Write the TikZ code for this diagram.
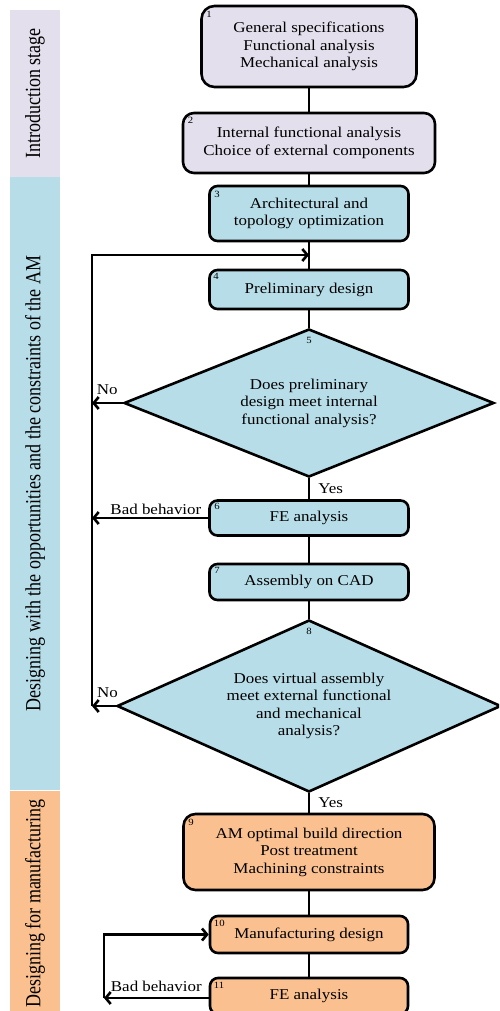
\documentclass[tikz,border=0pt]{standalone}
\usepackage{fontspec}
\setmainfont{Liberation Serif}[FakeStretch=1.13]
\newfontfamily\stagefont{Liberation Serif}
\usetikzlibrary{positioning,arrows.meta,shapes.geometric,calc}
\definecolor{introfill}{HTML}{E4DFEC}
\definecolor{amfill}{HTML}{B7DEE8}
\definecolor{mfgfill}{HTML}{FAC090}
\newcommand{\stagetext}[1]{\scalebox{1}[1.2]{#1}}

\begin{document}
\begin{tikzpicture}[x=1pt, y=-1pt,
  procbox/.style={draw, line width=2.6pt, rounded corners=8pt, align=center,
    inner sep=0pt, font=\fontsize{15}{17.5}\selectfont},
  decision/.style={draw, diamond, line width=2.6pt, fill=amfill, align=center,
    inner sep=0pt, font=\fontsize{15}{17.5}\selectfont},
  numlbl/.style={font=\fontsize{9.5}{10}\selectfont, inner sep=0pt, anchor=north west},
  stagebar/.style={rotate=90, inner sep=0pt, minimum height=50pt,
    font=\stagefont\fontsize{18}{21}\selectfont},
  flow/.style={line width=2.6pt},
  back/.style={line width=2.6pt, -{Straight Barb[length=5pt,width=12pt]}},
  tag/.style={font=\fontsize{15}{17.5}\selectfont, inner sep=1pt}
]
  \clip (0,0) rectangle (499,1011);

  % Stage bars on the left
  \node[stagebar, fill=introfill, minimum width=167pt] (s1) at (35,93.5)
    {\stagetext{Introduction stage}};
  \node[stagebar, fill=amfill, minimum width=613pt] (s2) at (35,483.5)
    {\stagetext{Designing with the opportunities and the constraints of the AM}};
  \node[stagebar, fill=mfgfill, minimum width=226pt] (s3) at (35,903.5)
    {\stagetext{Designing for manufacturing}};

  % Introduction stage
  \node[procbox, fill=introfill, rounded corners=13pt,
        minimum width=215pt, minimum height=81pt] (b1) at (309,46.5)
    {General specifications\\Functional analysis\\Mechanical analysis};
  \node[numlbl] at ($(b1.north west)+(6,6)$) {1};

  \node[procbox, fill=introfill, rounded corners=11pt,
        minimum width=252pt, minimum height=60pt] (b2) at (309,143)
    {Internal functional analysis\\Choice of external components};
  \node[numlbl] at ($(b2.north west)+(6,5)$) {2};

  % Designing with the AM
  \node[procbox, fill=amfill, minimum width=199pt, minimum height=55pt] (b3) at (309,213.5)
    {Architectural and\\topology optimization};
  \node[numlbl] at ($(b3.north west)+(6,6)$) {3};

  \node[procbox, fill=amfill, minimum width=199pt, minimum height=39pt] (b4) at (309,289.5)
    {Preliminary design};
  \node[numlbl] at ($(b4.north west)+(5,4)$) {4};

  \node[decision, aspect=2.5, minimum width=370pt, minimum height=148pt] (d5) at (309,403)
    {Does preliminary\\design meet internal\\functional analysis?};
  \node[numlbl, anchor=center] at ($(d5.north)+(0,13)$) {5};

  \node[procbox, fill=amfill, minimum width=199pt, minimum height=35pt] (b6) at (309,518)
    {FE analysis};
  \node[numlbl] at ($(b6.north west)+(6,4)$) {6};

  \node[procbox, fill=amfill, minimum width=199pt, minimum height=36pt] (b7) at (309,582)
    {Assembly on CAD};
  \node[numlbl] at ($(b7.north west)+(6,4)$) {7};

  \node[decision, aspect=2.23, minimum width=384pt, minimum height=172pt] (d8) at (309,706)
    {Does virtual assembly\\meet external functional\\and mechanical\\analysis?};
  \node[numlbl, anchor=center] at ($(d8.north)+(0,13)$) {8};

  % Designing for manufacturing
  \node[procbox, fill=mfgfill, rounded corners=12pt,
        minimum width=251pt, minimum height=76pt] (b9) at (309,852)
    {AM optimal build direction\\Post treatment\\Machining constraints};
  \node[numlbl] at ($(b9.north west)+(6,6)$) {9};

  \node[procbox, fill=mfgfill, minimum width=198pt, minimum height=37pt] (b10) at (309,934.5)
    {Manufacturing design};
  \node[numlbl] at ($(b10.north west)+(5,5)$) {10};

  \node[procbox, fill=mfgfill, minimum width=198pt, minimum height=36pt] (b11) at (309,996)
    {FE analysis};
  \node[numlbl] at ($(b11.north west)+(5,5)$) {11};

  % Main flow
  \draw[flow] (b1) -- (b2);
  \draw[flow] (b2) -- (b3);
  \draw[flow] (b3) -- (b4);
  \draw[flow] (b4) -- (d5.north);
  \draw[flow] (d5.south) -- (b6.north) node[tag, midway, right=7pt] {Yes};
  \draw[flow] (b6) -- (b7);
  \draw[flow] (b7) -- (d8.north);
  \draw[flow] (d8.south) -- (b9.north) node[tag, midway, right=7pt] {Yes};
  \draw[flow] (b9) -- (b10);
  \draw[flow] (b10) -- (b11);

  % Feedback loop to preliminary design
  \coordinate (loopTop) at (92,255);
  \draw[back] (d5.west) -- (d5.west -| loopTop) node[tag, midway, above=6pt] {No};
  \draw[back] (b6.west) -- (b6.west -| loopTop) node[tag, pos=0.45, above=1pt] {Bad behavior};
  \draw[back] (d8.west) -- (d8.west -| loopTop) node[tag, pos=0.35, above=6pt] {No};
  \draw[back] (d8.west -| loopTop) -- (loopTop) -- (b3.south |- loopTop);

  % Feedback loop to manufacturing design
  \coordinate (loopLow) at (104,998);
  \draw[back] (b11.west |- loopLow) -- (loopLow) node[tag, midway, above=4pt] {Bad behavior};
  \draw[back] (loopLow) -- (loopLow |- b10.west) -- (b10.west);
\end{tikzpicture}
\end{document}
